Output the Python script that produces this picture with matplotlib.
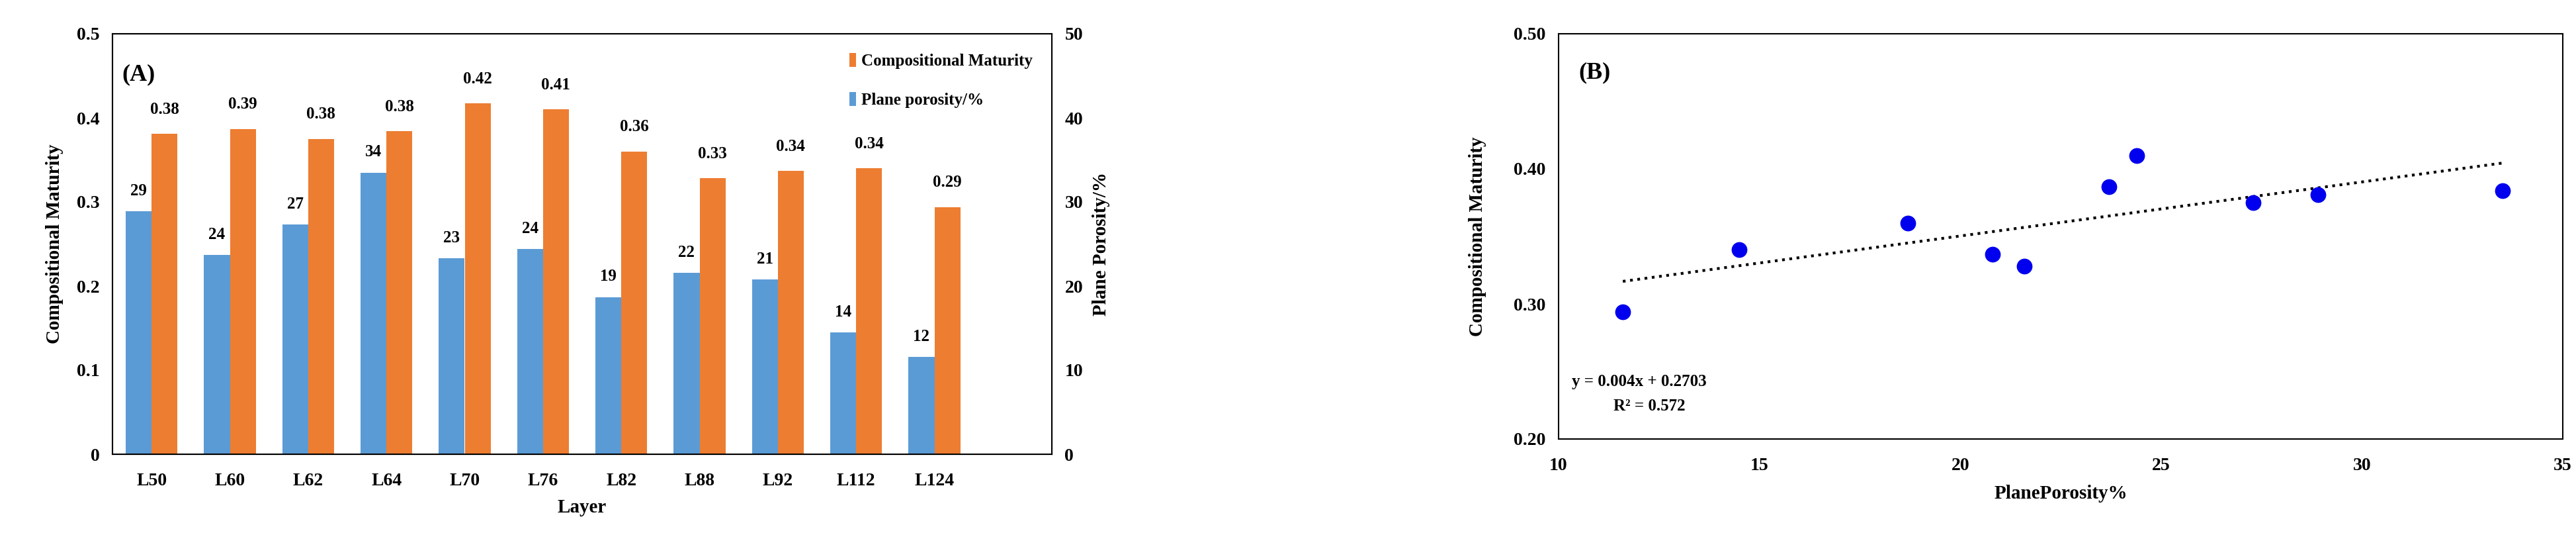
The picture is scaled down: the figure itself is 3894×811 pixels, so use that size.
import matplotlib
matplotlib.use("Agg")
import matplotlib.pyplot as plt
import numpy as np

layers = ["L50","L60","L62","L64","L70","L76","L82","L88","L92","L112","L124"]
porosity = [28.9,23.7,27.3,33.5,23.3,24.4,18.7,21.6,20.8,14.5,11.6]
maturity = [0.381,0.387,0.375,0.384,0.417,0.410,0.360,0.328,0.337,0.340,0.294]
sc_porosity = [11.6,14.5,18.7,20.8,21.6,23.7,24.4,27.3,28.9,33.5]
sc_maturity = [0.294,0.340,0.360,0.337,0.328,0.387,0.410,0.375,0.381,0.384]
slope, intercept = 0.004, 0.2703

plt.rcParams['font.family'] = ['Liberation Serif', 'DejaVu Serif']
plt.rcParams['font.weight'] = 'bold'
fig = plt.figure(figsize=(38.94, 8.11), dpi=100)
W, H = 3894, 811
axA = fig.add_axes([170/W, 1-686/H, (1590-170)/W, (686-51)/H])
axA2 = axA.twinx()
x = np.arange(len(layers))
bw = 0.33
blue = '#5b9bd5'; orange = '#ed7d31'
axA2.bar(x - bw/2, porosity, bw, color=blue, label='Plane porosity/%')
axA.bar(x + bw/2, maturity, bw, color=orange, label='Compositional Maturity')
axA.set_zorder(axA2.get_zorder()+1); axA.patch.set_visible(False)
for xi, v in zip(x, porosity):
    axA2.text(xi - bw/2, v + 1.5, f"{v:.0f}", ha='center', va='bottom', fontsize=18, fontweight='bold')
for xi, v in zip(x, maturity):
    axA.text(xi + bw/2, v + 0.02, f"{v:.2f}", ha='center', va='bottom', fontsize=18, fontweight='bold')
axA.set_xlim(-0.5, 11.5)
axA.set_ylim(0, 0.5); axA2.set_ylim(0, 50)
axA.set_yticks([0,0.1,0.2,0.3,0.4,0.5]); axA.set_yticklabels(['0','0.1','0.2','0.3','0.4','0.5'])
axA2.set_yticks([0,10,20,30,40,50])
axA.set_xticks(x); axA.set_xticklabels(layers)
for a in (axA, axA2):
    a.tick_params(length=0, labelsize=20, pad=14)
axA.tick_params(axis='x', pad=20)
axA.set_ylabel('Compositional Maturity', fontsize=21, fontweight='bold', labelpad=14)
axA2.set_ylabel('Plane Porosity/%', fontsize=21, fontweight='bold', labelpad=10)
axA.set_xlabel('Layer', fontsize=21, fontweight='bold', labelpad=10)
for s in axA.spines.values(): s.set_linewidth(1.5)
axA.text(0.01, 0.89, '(A)', transform=axA.transAxes, fontsize=26, fontweight='bold')
h1, l1 = axA.get_legend_handles_labels(); h2, l2 = axA2.get_legend_handles_labels()
axA.legend(h1+h2, l1+l2, loc='upper right', frameon=False, fontsize=18, handlelength=0.4, handleheight=0.9,
           handletextpad=0.3, labelspacing=1.4, bbox_to_anchor=(0.995, 0.99))

axB = fig.add_axes([2356/W, 1-663/H, (3874-2356)/W, (663-51)/H])
axB.scatter(sc_porosity, sc_maturity, s=260, color='#0000ee', zorder=3)
xl = np.array([min(sc_porosity), max(sc_porosity)])
axB.plot(xl, slope*xl + intercept, ls=':', color='black', lw=3)
axB.set_xlim(10, 35); axB.set_ylim(0.2, 0.5)
axB.set_yticks([0.2,0.3,0.4,0.5]); axB.set_yticklabels(['0.20','0.30','0.40','0.50'])
axB.tick_params(length=0, labelsize=20, pad=14)
axB.tick_params(axis='x', pad=20)
axB.set_xlabel('PlanePorosity%', fontsize=21, fontweight='bold', labelpad=12)
axB.set_ylabel('Compositional Maturity', fontsize=21, fontweight='bold', labelpad=30)
for s in axB.spines.values(): s.set_linewidth(1.5)
axB.text(0.02, 0.89, '(B)', transform=axB.transAxes, fontsize=26, fontweight='bold')
axB.text(0.013, 0.13, f'y = {slope}x + {intercept}', transform=axB.transAxes, fontsize=18, fontweight='bold')
axB.text(0.055, 0.07, 'R² = 0.572', transform=axB.transAxes, fontsize=18, fontweight='bold')
fig.savefig('out.png', dpi=100)
